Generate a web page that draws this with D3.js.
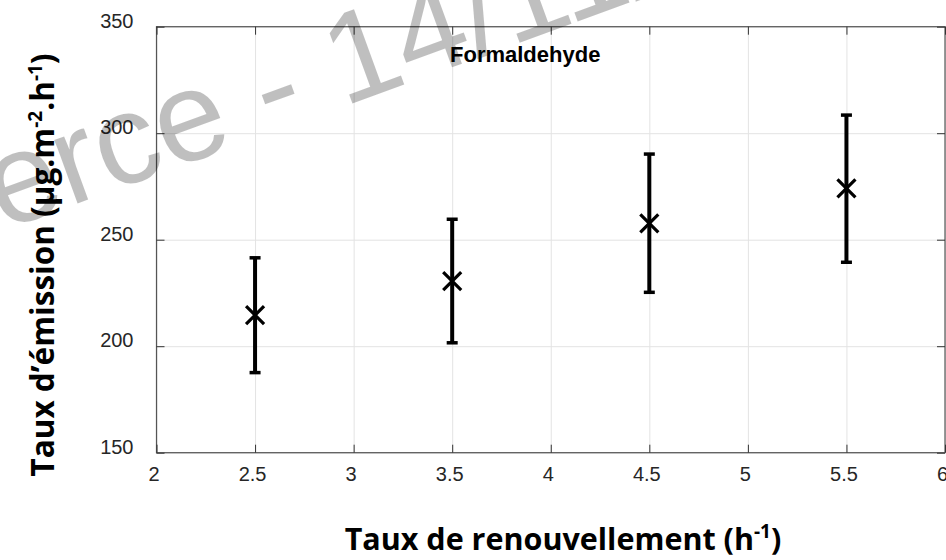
<!DOCTYPE html>
<html>
<head>
<meta charset="utf-8">
<script src="https://cdn.jsdelivr.net/npm/d3@7"></script>
<style>
  body { margin: 0; background: #fff; }
  svg { display: block; }
</style>
</head>
<body>
<div id="chart"></div>
<script>
// Data
const rates = [2.5, 3.5, 4.5, 5.5];
const means = [214.6, 230.6, 257.7, 274.1];
const uppers = [241.5, 259.6, 290.2, 308.5];
const lowers = [187.6, 201.6, 225.3, 239.4];
const xTicks = [2, 2.5, 3, 3.5, 4, 4.5, 5, 5.5, 6];
const yTicks = [150, 200, 250, 300, 350];
const seriesName = "Formaldehyde";

// Chart constants
const w = 946;
const h = 560;
const pLeft = 156.5, pRight = 945, pTop = 26.7, pBottom = 452.7;

const svg = d3.select("#chart").append("svg")
              .attr("width", w)
              .attr("height", h);

const xScale = d3.scaleLinear().domain([2, 6]).range([pLeft, pRight]);
const yScale = d3.scaleLinear().domain([150, 350]).range([pBottom, pTop]);

// grid lines
svg.append("g")
   .attr("transform", "translate(0," + pBottom + ")")
   .call(d3.axisBottom(xScale).tickValues(xTicks).tickSize(-(pBottom - pTop)).tickFormat(""))
   .call(g => g.select(".domain").remove())
   .selectAll("line").attr("stroke", "#e3e3e3");
svg.append("g")
   .attr("transform", "translate(" + pLeft + ",0)")
   .call(d3.axisLeft(yScale).tickValues(yTicks).tickSize(-(pRight - pLeft)).tickFormat(""))
   .call(g => g.select(".domain").remove())
   .selectAll("line").attr("stroke", "#e3e3e3");

// box
svg.append("rect")
   .attr("x", pLeft).attr("y", pTop)
   .attr("width", pRight - pLeft).attr("height", pBottom - pTop)
   .attr("fill", "none").attr("stroke", "#555").attr("stroke-width", 1.2);

// x axis (ticks inward)
const xAxis = svg.append("g")
   .attr("transform", "translate(0," + pBottom + ")")
   .call(d3.axisBottom(xScale).tickValues(xTicks).tickSizeInner(-8).tickSizeOuter(0).tickPadding(14).tickFormat(d3.format("")));
xAxis.select(".domain").remove();
xAxis.selectAll("line").attr("stroke", "#333");
xAxis.selectAll("text")
     .attr("x", -3)
     .style("font-family", "'Liberation Sans', Arial, sans-serif")
     .style("font-size", "20px")
     .attr("fill", "#262626");

// top ticks
svg.append("g")
   .attr("transform", "translate(0," + pTop + ")")
   .call(d3.axisTop(xScale).tickValues(xTicks).tickSizeInner(-8).tickSizeOuter(0).tickFormat(""))
   .call(g => g.select(".domain").remove())
   .selectAll("line").attr("stroke", "#333");

// y axis
const yAxis = svg.append("g")
   .attr("transform", "translate(" + pLeft + ",0)")
   .call(d3.axisLeft(yScale).tickValues(yTicks).tickSizeInner(-8).tickSizeOuter(0).tickPadding(23));
yAxis.select(".domain").remove();
yAxis.selectAll("line").attr("stroke", "#333");
yAxis.selectAll("text")
     .attr("y", -6)
     .style("font-family", "'Liberation Sans', Arial, sans-serif")
     .style("font-size", "20px")
     .attr("fill", "#262626");

// right ticks
svg.append("g")
   .attr("transform", "translate(" + pRight + ",0)")
   .call(d3.axisRight(yScale).tickValues(yTicks).tickSizeInner(-8).tickSizeOuter(0).tickFormat(""))
   .call(g => g.select(".domain").remove())
   .selectAll("line").attr("stroke", "#333");

// error bars
const points = rates.map((r, i) => ({ x: r, mean: means[i], hi: uppers[i], lo: lowers[i] }));
const bars = svg.append("g").selectAll("g")
   .data(points)
   .enter()
   .append("g")
   .attr("stroke", "#000");
bars.append("line")
    .attr("x1", d => xScale(d.x)).attr("x2", d => xScale(d.x))
    .attr("y1", d => yScale(d.hi)).attr("y2", d => yScale(d.lo))
    .attr("stroke-width", 4);
bars.append("line")
    .attr("x1", d => xScale(d.x) - 5.5).attr("x2", d => xScale(d.x) + 5.5)
    .attr("y1", d => yScale(d.hi)).attr("y2", d => yScale(d.hi))
    .attr("stroke-width", 3.5);
bars.append("line")
    .attr("x1", d => xScale(d.x) - 5.5).attr("x2", d => xScale(d.x) + 5.5)
    .attr("y1", d => yScale(d.lo)).attr("y2", d => yScale(d.lo))
    .attr("stroke-width", 3.5);
// x markers
bars.append("path")
    .attr("d", d => {
        const cx = xScale(d.x), cy = yScale(d.mean), s = 9;
        return "M" + (cx - s) + "," + (cy - s) + "L" + (cx + s) + "," + (cy + s) +
               "M" + (cx - s) + "," + (cy + s) + "L" + (cx + s) + "," + (cy - s);
    })
    .attr("stroke-width", 3.2)
    .attr("fill", "none");

// series label
svg.append("text")
   .text(seriesName)
   .attr("x", 450)
   .attr("y", 61.5)
   .style("font-family", "'Liberation Sans', Arial, sans-serif")
   .style("font-size", "22px")
   .style("font-weight", "bold");

// x title
const xTitle = svg.append("text")
   .attr("x", 563)
   .attr("y", 550)
   .attr("text-anchor", "middle")
   .style("font-family", "'Open Sans', sans-serif")
   .style("font-size", "30.5px")
   .style("font-weight", "bold");
xTitle.append("tspan").text("Taux de renouvellement (h");
xTitle.append("tspan").text("-1").attr("dy", -12).style("font-size", "19px");
xTitle.append("tspan").text(")").attr("dy", 12);

// y title
const yTitle = svg.append("text")
   .attr("transform", "translate(54,265) rotate(-90)")
   .attr("text-anchor", "middle")
   .style("font-family", "'Open Sans', sans-serif")
   .style("font-size", "31.5px")
   .style("font-weight", "bold");
yTitle.append("tspan").text("Taux d\u2019émission (µg.m");
yTitle.append("tspan").text("-2").attr("dy", -12).style("font-size", "19px");
yTitle.append("tspan").text(".h").attr("dy", 12);
yTitle.append("tspan").text("-1").attr("dy", -12).style("font-size", "19px");
yTitle.append("tspan").text(")").attr("dy", 12);

// watermark
svg.append("text")
   .text("commerce - 14/11/2")
   .attr("transform", "translate(-325,350) rotate(-20)")
   .style("font-family", "'Liberation Sans', Arial, sans-serif")
   .style("font-size", "128px")
   .attr("fill", "#000")
   .attr("fill-opacity", 0.25);
</script>
</body>
</html>
